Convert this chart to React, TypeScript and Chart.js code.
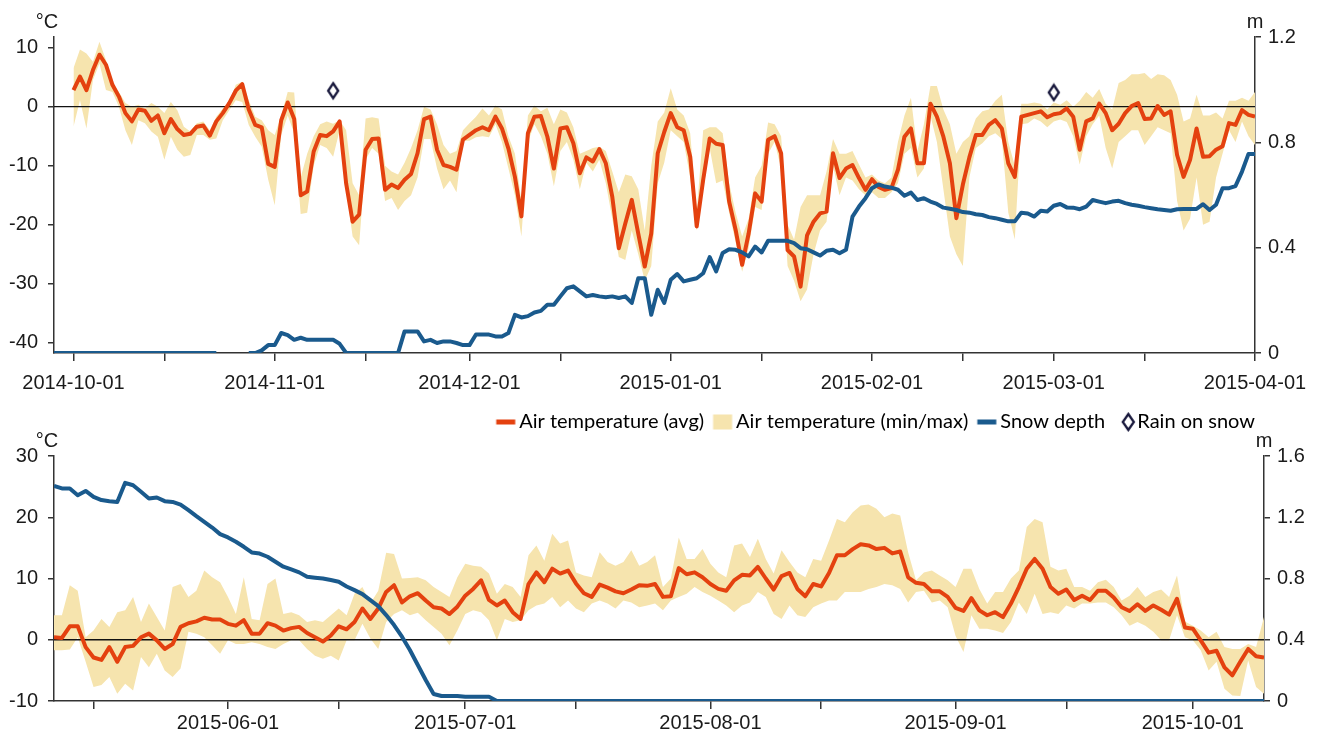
import React, { useEffect, useRef } from 'react';
import { Chart, registerables } from 'chart.js';

Chart.register(...registerables);

// ---------------- data ----------------
// Top panel: day 0 = 2014-10-01
const topRange = [-3, 182];
const topMonthDays = [0, 31, 61, 92, 123, 151, 182];
const topMonthLabels = ['2014-10-01', '2014-11-01', '2014-12-01', '2015-01-01', '2015-02-01', '2015-03-01', '2015-04-01'];
const topMidDays = [14, 45, 75, 106, 137, 165];
const topTempTicks = [-40, -30, -20, -10, 0, 10];
const topSnowTicks = [0, 0.4, 0.8, 1.2];
const topTempStart = 0;
const topSnowStart = -3;

const topAvg = [
  2.8, 5.1, 2.8, 6.2, 8.8, 7.1, 3.7, 1.7, -1.1, -2.5,
  -0.5, -0.7, -2.4, -1.5, -4.5, -2.1, -3.8, -4.8, -4.6, -3.4,
  -3.2, -4.9, -2.5, -1.1, 0.6, 2.7, 3.8, -0.5, -3.1, -3.5,
  -9.7, -10.2, -2.3, 0.7, -2.1, -15.0, -14.4, -7.6, -4.8, -5.0,
  -4.2, -2.5, -13, -19.5, -18.3, -7.3, -5.5, -5.4, -14.1, -13.2,
  -13.8, -12.4, -11.4, -7.9, -2.1, -1.7, -7.3, -9.9, -10.2, -10.7,
  -5.6, -4.8, -4.0, -3.5, -4.0, -1.7, -3.7, -7.1, -11.9, -18.6,
  -4.5, -1.7, -1.6, -5.1, -10.5, -3.7, -3.5, -6.2, -11.3, -8.6,
  -9.3, -7.2, -9.6, -15.3, -24.0, -19.8, -15.8, -21.5, -27.1, -21.5,
  -7.9, -4.3, -1.1, -3.5, -4.0, -8.5, -20.3, -12.4, -5.4, -6.3,
  -6.5, -16.1, -20.9, -26.8, -21.5, -14.7, -16.1, -5.6, -5.0, -7.9,
  -24.3, -25.4, -30.5, -21.8, -19.5, -18.1, -17.8, -7.9, -12.1, -10.5,
  -9.9, -12.1, -14.1, -12.3, -13.6, -14.1, -13.8, -10.7, -5.1, -3.7,
  -9.6, -9.6, 0.5, -1.7, -5.1, -9.6, -18.9, -13.2, -8.6, -4.8,
  -4.8, -3.1, -2.3, -3.7, -9.6, -11.9, -1.7, -1.4, -1.1, -0.8,
  -1.8, -1.3, -1.1, -0.3, -1.7, -7.3, -2.5, -2.0, 0.5, -1.1,
  -4.0, -2.9, -1.1, 0.1, 0.6, -2.1, -2.0, 0.1, -1.4, -0.8,
  -8.2, -11.9, -9.0, -3.7, -8.5, -8.4, -7.3, -6.7, -2.8, -3.1,
  -0.6, -1.4, -1.7,
];
const topMax = [
  6.5, 9.7, 9.0, 7.6, 11, 7.9, 4.0, 2.5, 0.6, 0,
  0.3, -0.3, 0.6, 0, -1.1, 0.8, -0.6, -3.4, -4.2, -2.8,
  -2.5, -4, -1.7, -0.3, 0.8, 3.7, 4.2, 1.1, -1.7, -2.3,
  -4, -4.8, -1.5, 2.5, 2.4, -12, -8, -5, -3, -2.5,
  -2.9, -2.3, -4, -13, -15, -2, -1.8, -2, -10, -11,
  -11.5, -9.5, -7, -4, 0, -0.5, -3, -6.5, -8, -7.5,
  -4, -2.8, -1.7, -0.3, -1.5, 0.2, -0.5, -5, -8, -16,
  -1.5, 0.2, -0.8, -0.2, -3, -0.5, -1, -3.5, -8, -7.5,
  -7, -6.8, -7.5, -11, -14.5, -11.5, -11.8, -14, -21, -10,
  -2.5, -1, 3.1, -0.5, -1.5, -4.5, -18, -4, -3.5, -3.5,
  -4.5, -13, -18, -22, -19, -12, -10, -2.7, -3, -5,
  -20, -22.5, -17, -15, -15, -15, -11, -5.5, -8, -8,
  -7.5, -9.8, -12, -11.5, -12.5, -13, -12, -6, -1.5, 1.5,
  -7.5, -3, 3.5, 3.5, -0.5, -3, -8, -6, -5, -2,
  -0.8, -0.5, 1, 2, -6, -10, 0.5, 0.5, 0.7, 0.5,
  -0.5, 0.7, 0.3, 1.1, 0, 1, 2.5, 1.5, 3, 0.5,
  -0.5, 4, 4.5, 5.5, 5.5, 5.7, 4.7, 5.5, 5.3, 4.5,
  2, -2.5, -2, 2, -1.5, -1.5, -1, -2, 1, 1,
  1.5, 1, 2.5,
];
const topMin = [
  -3.4, 1.1, -3.7, 4.5, 7.3, 2.8, 2.5, 0, -4, -6.5,
  -2.3, -2.8, -4.2, -5.1, -9, -5.1, -7.3, -8.5, -8.2, -4.8,
  -4.8, -5.6, -5.4, -2.3, -0.6, 1.1, 0.8, -3.1, -5.1, -6.8,
  -12.4, -16.7, -4.8, -1.5, -4.5, -18.2, -18, -10, -6.5, -7,
  -8.5, -4, -14, -22, -23.5, -9, -7, -8, -16, -15.5,
  -17.5, -16, -15, -12, -5.5, -5.5, -10.5, -14, -12.5, -14.5,
  -5.8, -5.8, -5.2, -5, -5.2, -3, -6, -10.5, -15, -22,
  -6, -3, -5, -8, -13.5, -7.5, -6, -9, -14, -9.5,
  -11, -9, -13, -19, -25.5, -26, -21, -25, -29.5, -27,
  -13, -9.5, -4, -5, -6, -12, -21, -14, -7, -13,
  -12.5, -18, -23, -28, -24, -17, -17.5, -8, -6, -10.5,
  -27, -29.5, -33, -31, -25, -21, -19.5, -10, -15, -12,
  -12.5, -14, -15, -14.5, -15.5, -15.5, -14.5, -13, -8, -7,
  -12, -10.5, -1.5, -6, -14, -22, -25, -27, -12, -7,
  -6.2, -5, -4.5, -5.5, -18, -22.5, -3, -2.8, -2, -2.5,
  -3.5, -2.5, -2.2, -2.6, -5, -9.8, -5, -3, -1.5, -7,
  -10.5, -6, -5, -4, -4, -6.5, -5, -3.5, -4, -4.5,
  -16, -21, -19, -12, -20, -19.5, -12, -8, -4, -6,
  -2.5, -5, -6.5,
];
// snow depth (m), day -3 .. 182, null = missing
const topSnow = [
  0, 0, 0, 0, 0, 0, 0, 0, 0, 0, 0, 0, 0, 0, 0, 0, 0, 0, 0, 0, 0, 0, 0, 0, 0, 0,
  null, null, null, null,
  0, 0, 0.01, 0.03, 0.03, 0.076, 0.068, 0.05, 0.058, 0.05, 0.05, 0.05, 0.05, 0.05, 0.035, 0,
  0, 0, 0, 0, 0, 0, 0, 0,
  0.082, 0.082, 0.082, 0.044, 0.05, 0.038, 0.044, 0.044, 0.038, 0.03,
  0.03, 0.07, 0.07, 0.07, 0.063, 0.063, 0.076, 0.145, 0.135, 0.14,
  0.154, 0.16, 0.183, 0.183, 0.215, 0.246, 0.253, 0.234, 0.215, 0.22,
  0.215, 0.212, 0.215, 0.209, 0.215, 0.19, 0.284, 0.284, 0.145, 0.24,
  0.19, 0.278, 0.30, 0.272, 0.278, 0.284, 0.303, 0.364, 0.31, 0.38,
  0.394, 0.392, 0.382, 0.367, 0.404, 0.382, 0.426, 0.426, 0.426, 0.426,
  0.417, 0.398, 0.394, 0.382, 0.37, 0.388, 0.392, 0.379, 0.392, 0.518,
  0.556, 0.588, 0.626, 0.64, 0.632, 0.628, 0.62, 0.597, 0.609, 0.581,
  0.588, 0.575, 0.566, 0.552, 0.548, 0.543, 0.535, 0.533, 0.527, 0.524,
  0.516, 0.512, 0.506, 0.5, 0.5, 0.533, 0.53, 0.518, 0.54, 0.537,
  0.559, 0.566, 0.553, 0.552, 0.546, 0.556, 0.581, 0.575, 0.569, 0.575,
  0.578, 0.569, 0.563, 0.559, 0.554, 0.55, 0.546, 0.543, 0.54, 0.546,
  0.547, 0.547, 0.547, 0.565, 0.543, 0.563, 0.626, 0.626, 0.634, 0.689,
  0.756, 0.756,
];
const rainDays = [40, 151];
const rainTemps = [2.7, 2.4];

// Bottom panel: day 0 = 2015-06-01
const bottomRange = [-22, 131];
const bottomMonthDays = [0, 30, 61, 92, 122];
const bottomMonthLabels = ['2015-06-01', '2015-07-01', '2015-08-01', '2015-09-01', '2015-10-01'];
const bottomMidDays = [-17, 14, 44, 75, 106];
const bottomTempTicks = [-10, 0, 10, 20, 30];
const bottomSnowTicks = [0, 0.4, 0.8, 1.2, 1.6];
const bottomStart = -22;

const bottomAvg = [
  0.4, 0.3, 2.2, 2.2, -1.2, -2.9, -3.3, -1.2, -3.6, -1.2,
  -1.0, 0.4, 1.0, -0.1, -1.5, -0.7, 2.1, 2.7, 3.0, 3.6,
  3.3, 3.3, 2.6, 2.3, 3.2, 1.0, 1.0, 2.7, 2.3, 1.5,
  1.9, 2.1, 1.1, 0.4, -0.3, 0.7, 2.2, 1.7, 2.9, 5.1,
  3.4, 5.1, 7.8, 8.9, 6.1, 7.1, 7.6, 6.4, 5.3, 5.1,
  4.2, 5.4, 7.2, 8.3, 9.7, 6.5, 5.6, 6.4, 4.5, 3.4,
  9.1, 11.0, 9.4, 11.6, 10.8, 11.3, 9.2, 7.6, 7.0, 9.0,
  8.5, 7.9, 7.6, 8.2, 8.9, 8.8, 9.1, 7.0, 7.1, 11.7,
  10.7, 11.0, 10.2, 9.1, 8.3, 8.0, 9.7, 10.6, 10.5, 11.9,
  10.0, 8.2, 10.4, 10.9, 8.3, 7.1, 9.1, 8.7, 10.9, 13.8,
  13.8, 14.8, 15.6, 15.4, 14.8, 15.0, 14.1, 14.4, 10.2, 9.3,
  9.1, 7.9, 7.9, 7.0, 5.2, 4.7, 6.8, 4.8, 4.0, 4.5,
  3.7, 5.9, 8.6, 11.6, 13.2, 11.6, 8.6, 7.5, 8.2, 6.5,
  7.2, 6.5, 8.0, 8.0, 6.9, 5.3, 4.7, 5.8, 4.7, 5.6,
  4.9, 4.1, 6.7, 2.0, 1.8, -0.1, -2.1, -1.8, -4.5, -5.8,
  -3.6, -1.5, -2.7, -2.9,
];
const bottomMax = [
  4, 4, 8.9, 8, 0.4, 1.5, 3.4, 2.1, 4.5, 4.8,
  7, 2.9, 5.9, 3.7, 1.5, 8.6, 9.1, 7, 8, 11.3,
  10.2, 9.4, 7, 4.2, 10.2, 3.4, 3.2, 9.1, 10, 4.2,
  4.5, 4, 2.9, 3.2, 2.9, 4, 5.1, 4, 7.5, 8.6,
  5.9, 8, 14.2, 14, 10, 10.1, 10.2, 9.7, 8.6, 7.8,
  7, 10.2, 12.4, 12.1, 11.9, 10.8, 7.5, 9.1, 8.6, 7,
  13.8, 15.4, 12.9, 17.3, 15.7, 16.2, 11, 10.5, 10.2, 14.3,
  12.7, 12.1, 12.7, 14.6, 12.1, 12.7, 13.8, 8.6, 10, 16.7,
  13.2, 13.2, 14.8, 12.4, 11, 10.2, 15.4, 15.7, 13.5, 16.5,
  13.2, 10.8, 14.6, 12.7, 11, 10.2, 13.2, 12.9, 16.2, 19.7,
  19.2, 20.8, 21.9, 22.1, 21.4, 20, 20.6, 20.3, 14.3, 9.7,
  11, 11.3, 10.5, 9.7, 8.6, 11.6, 11.6, 8.3, 5.9, 7.8,
  7.8, 10, 11.3, 18.4, 19.7, 19.2, 11.9, 11.3, 11.6, 8.6,
  8.6, 8, 9.4, 9.8, 8.6, 6.4, 7.2, 8.6, 7, 7.8,
  8.2, 7, 10.5, 3, 2.3, 1.5, 0.4, 1.3, -1.2, -1.5,
  -1.5, -0.7, -1.2, 3.7,
];
const bottomMin = [
  -1.7, -1.7, -1.6, 0.4, -3.6, -7.7, -7.4, -6.1, -8.8, -7.2,
  -8.3, -2.8, -4.5, -2.3, -5, -6.1, -4.7, 1.3, 1, 0.4,
  -0.9, -2.3, -0.1, -0.7, -0.7, -0.4, -0.7, -1.2, -1.5, -0.7,
  -0.1, -0.1, -1.5, -2.6, -3.1, -2.6, -3.4, -0.1, -0.1, 2.6,
  0.2, -1.5, 2.9, 4.2, 4.8, 4, 4.4, 3.2, 2.1, 1,
  -0.9, 1.5, 4.2, 4.8, 4.5, 3.2, -0.1, 3.4, 2.9, 3.2,
  4.8, 5.6, 5.9, 7, 5.3, 6.4, 5.1, 4.5, 5.9, 6.4,
  5.9, 5.1, 6.4, 6.1, 5.3, 5.6, 5.9, 4.8, 6.4, 7,
  7.5, 8.6, 7.8, 7.2, 6.4, 5.6, 4.5, 5.6, 6.1, 7.8,
  7, 4.2, 3.4, 5.6, 4, 3.7, 5.3, 5.9, 6.4, 6.4,
  7.8, 7.8, 7.8, 8.3, 8.6, 9.1, 8.9, 8.3, 6.1, 7.8,
  8, 6.1, 6.4, 5.3, 0.6, -2, 4, 1.8, 1.8, 1.5,
  1.1, 2.9, 6.1, 4.2, 7.5, 4.2, 4.5, 4.2, 5.6, 5.1,
  5.9, 5.9, 6.1, 6.1, 5.3, 4, 2.3, 2.9, 2.3, 1.3,
  -0.1, -0.1, 4, 0.4, -0.1, -1.7, -5, -3.6, -8, -9.1,
  -9.2, -3.4, -7.7, -8.8,
];
const bottomSnow = [
  1.405, 1.388, 1.388, 1.344, 1.372, 1.333, 1.312, 1.305, 1.300, 1.425,
  1.409, 1.366, 1.322, 1.329, 1.305, 1.300, 1.283, 1.246, 1.207, 1.170,
  1.133, 1.090, 1.068, 1.040, 1.007, 0.970, 0.963, 0.942, 0.909, 0.877,
  0.859, 0.840, 0.811, 0.805, 0.800, 0.790, 0.779, 0.748, 0.724, 0.698,
  0.659, 0.620, 0.561, 0.496, 0.420, 0.333, 0.235, 0.137, 0.046, 0.033,
  0.033, 0.033, 0.028, 0.028, 0.028, 0.028, 0, 0, 0, 0,
  0, 0, 0, 0, 0, 0, 0, 0, 0, 0,
  0, 0, 0, 0, 0, 0, 0, 0, 0, 0,
  0, 0, 0, 0, 0, 0, 0, 0, 0, 0,
  0, 0, 0, 0, 0, 0, 0, 0, 0, 0,
  0, 0, 0, 0, 0, 0, 0, 0, 0, 0,
  0, 0, 0, 0, 0, 0, 0, 0, 0, 0,
  0, 0, 0, 0, 0, 0, 0, 0, 0, 0,
  0, 0, 0, 0, 0, 0, 0, 0, 0, 0,
  0, 0, 0, 0, 0, 0, 0, 0, 0, 0,
  0, 0, 0, 0,
];

const legendTexts = ['Air temperature (avg)', 'Air temperature (min/max)', 'Snow depth', 'Rain on snow'];

// ---------------- style ----------------
const AXIS_FONT = { family: '"Liberation Sans", Arial, Helvetica, sans-serif', size: 20 };
const LEGEND_FONT = { family: 'Lato, "Noto Sans", sans-serif', size: 20 };
const RED = '#E4410F';
const BLUE = '#1A5A8D';
const BAND = '#F6E4AE';
const NAVY = '#17173B';
const AXIS = '#333333';
const TEXT = '#1A1A1A';
const NONE = 'rgba(0,0,0,0)';

function pts(values: (number | null)[], start: number) {
  return values.map((v, i) => ({ x: start + i, y: v }));
}

function makeDiamond(): HTMLCanvasElement {
  const c = document.createElement('canvas');
  c.width = 16; c.height = 20;
  const g = c.getContext('2d')!;
  g.beginPath();
  g.moveTo(8, 2.5); g.lineTo(13, 10); g.lineTo(8, 17.5); g.lineTo(3, 10); g.closePath();
  g.fillStyle = '#fff'; g.fill();
  g.lineWidth = 2.3; g.strokeStyle = NAVY; g.lineJoin = 'miter'; g.stroke();
  return c;
}

function makeIcon(kind: string): HTMLCanvasElement {
  const c = document.createElement('canvas');
  c.width = 40; c.height = 20;
  const g = c.getContext('2d')!;
  if (kind === 'avg') { g.fillStyle = RED; g.fillRect(13.5, 7.5, 19, 5); }
  if (kind === 'band') { g.fillStyle = BAND; g.fillRect(13.5, 2.5, 19, 15); }
  if (kind === 'snow') { g.fillStyle = BLUE; g.fillRect(13.5, 7.5, 19, 5); }
  if (kind === 'rain') {
    g.beginPath();
    g.moveTo(27.5, 2); g.lineTo(33, 10); g.lineTo(27.5, 18); g.lineTo(22, 10); g.closePath();
    g.fillStyle = '#fff'; g.fill();
    g.lineWidth = 2.3; g.strokeStyle = NAVY; g.stroke();
  }
  return c;
}

const unitPlugin = {
  id: 'unitLabels',
  afterDraw(chart: any) {
    const { ctx, chartArea } = chart;
    ctx.save();
    ctx.fillStyle = TEXT;
    ctx.font = '20px "Liberation Sans", Arial, sans-serif';
    ctx.textAlign = 'center';
    ctx.textBaseline = 'alphabetic';
    ctx.fillText('°C', chartArea.left - 7, chartArea.top - 9.5);
    ctx.fillText('m', chartArea.right, chartArea.top - 9.5);
    ctx.restore();
  },
};

function xScale(range: number[], majors: number[], labels: string[], mids: number[], height: number, pad: number) {
  const map = new Map(majors.map((d, i) => [d, labels[i]]));
  const all = [...majors, ...mids].sort((a, b) => a - b);
  return {
    type: 'linear',
    position: 'bottom',
    min: range[0],
    max: range[1],
    afterBuildTicks: (s: any) => { s.ticks = all.map((v) => ({ value: v })); },
    afterFit: (s: any) => { s.height = height; },
    ticks: {
      autoSkip: false, maxRotation: 0, minRotation: 0,
      font: AXIS_FONT, color: TEXT, padding: pad,
      callback: (v: number) => map.get(v) ?? '',
    },
    grid: { drawOnChartArea: false, drawTicks: true, tickLength: 8, color: AXIS, lineWidth: 1.5 },
    border: { display: true, color: AXIS, width: 1.5 },
  };
}

function yScale(position: string, min: number, max: number, ticks: number[], width: number, fmt: (v: number) => string, pad: number) {
  return {
    type: 'linear',
    position,
    min,
    max,
    afterBuildTicks: (s: any) => { s.ticks = ticks.map((v) => ({ value: v })); },
    afterFit: (s: any) => { s.width = width; },
    ticks: { font: AXIS_FONT, color: TEXT, padding: pad, callback: (v: number) => fmt(v) },
    grid: { drawOnChartArea: false, drawTicks: true, tickLength: 6, color: AXIS, lineWidth: 1.5 },
    border: { display: true, color: AXIS, width: 1.5 },
  };
}

const fmtTemp = (v: number) => String(v);
const fmtSnow = (v: number) => (v === 0 ? '0' : v.toFixed(1));

function tempDatasets(range: number[], max: number[], min: number[], avg: number[], start: number) {
  return [
    { label: 'zero', data: [{ x: range[0], y: 0 }, { x: range[1], y: 0 }], borderColor: '#111', borderWidth: 1.3, pointRadius: 0, order: 8, xAxisID: 'x', yAxisID: 'y', fill: false },
    { label: 'max', data: pts(max, start), borderColor: NONE, borderWidth: 0, pointRadius: 0, backgroundColor: BAND, fill: '+1', order: 10, xAxisID: 'x', yAxisID: 'y' },
    { label: 'min', data: pts(min, start), borderColor: NONE, borderWidth: 0, pointRadius: 0, fill: false, order: 9, xAxisID: 'x', yAxisID: 'y' },
    { label: 'avg', data: pts(avg, start), borderColor: RED, borderWidth: 4, pointRadius: 0, order: 2, xAxisID: 'x', yAxisID: 'y', fill: false, borderJoinStyle: 'round' },
  ];
}

export default function App() {
  const topRef = useRef<HTMLCanvasElement>(null);
  const botRef = useRef<HTMLCanvasElement>(null);

  useEffect(() => {
    const diamond = makeDiamond();
    const icons = ['avg', 'band', 'snow', 'rain'].map(makeIcon);

    const common = {
      responsive: false,
      animation: false,
      devicePixelRatio: 1,
      events: [],
      elements: { line: { tension: 0 } },
    };

    const top = new Chart(topRef.current!, {
      type: 'line',
      data: {
        datasets: [
          ...tempDatasets(topRange, topMax, topMin, topAvg, topTempStart),
          { label: 'snow', data: pts(topSnow, topSnowStart), borderColor: BLUE, borderWidth: 4, pointRadius: 0, order: 1, xAxisID: 'x', yAxisID: 'y1', spanGaps: false, fill: false, borderJoinStyle: 'round' },
          { label: 'rain', data: rainDays.map((d, i) => ({ x: d, y: rainTemps[i] })), showLine: false, pointStyle: diamond, pointRadius: 6, order: 0, xAxisID: 'x', yAxisID: 'y' },
        ],
      } as any,
      options: {
        ...common,
        layout: { padding: { top: 37, left: 0, right: 0, bottom: 0 } },
        plugins: { legend: { display: false }, tooltip: { enabled: false } },
        scales: {
          x: xScale(topRange, topMonthDays, topMonthLabels, topMidDays, 47, 10),
          y: yScale('left', -41.75, 11.8, topTempTicks, 54, fmtTemp, 10),
          y1: yScale('right', 0, 1.2, topSnowTicks, 65, fmtSnow, 7),
        },
      } as any,
      plugins: [unitPlugin],
    });

    const bot = new Chart(botRef.current!, {
      type: 'line',
      data: {
        datasets: [
          ...tempDatasets(bottomRange, bottomMax, bottomMin, bottomAvg, bottomStart),
          { label: 'snow', data: pts(bottomSnow, bottomStart), borderColor: BLUE, borderWidth: 4, pointRadius: 0, order: 1, xAxisID: 'x', yAxisID: 'y1', fill: false, borderJoinStyle: 'round' },
        ],
      } as any,
      options: {
        ...common,
        layout: { padding: { top: 3, left: 0, right: 0, bottom: 0 } },
        plugins: {
          tooltip: { enabled: false },
          legend: {
            display: true,
            position: 'top',
            align: 'end',
            fullSize: false,
            labels: {
              usePointStyle: true,
              pointStyleWidth: 13,
              padding: 9,
              font: LEGEND_FONT,
              color: TEXT,
              generateLabels: () => legendTexts.map((t, i) => ({
                text: t,
                pointStyle: icons[i],
                fillStyle: NONE,
                strokeStyle: NONE,
                lineWidth: 0,
                hidden: false,
                datasetIndex: i,
              })),
            },
          },
        },
        scales: {
          x: xScale(bottomRange, bottomMonthDays, bottomMonthLabels, bottomMidDays, 43, 2),
          y: yScale('left', -10, 30, bottomTempTicks, 54, fmtTemp, 10),
          y1: yScale('right', 0, 1.6, bottomSnowTicks, 56, fmtSnow, 7),
          xTop: {
            type: 'linear', position: 'top', display: true, min: 0, max: 1,
            ticks: { display: false }, grid: { display: false, drawTicks: false }, border: { display: false },
            afterFit: (s: any) => { s.height = 14; },
          },
        },
      } as any,
      plugins: [unitPlugin],
    });

    return () => { top.destroy(); bot.destroy(); };
  }, []);

  return (
    <div style={{ position: 'absolute', left: 0, top: 0, width: 1320, height: 744, background: '#fff', overflow: 'hidden' }}>
      <canvas ref={topRef} width={1320} height={400} style={{ position: 'absolute', left: 0, top: 0, display: 'block' }} />
      <canvas ref={botRef} width={1320} height={344} style={{ position: 'absolute', left: 0, top: 400, display: 'block' }} />
    </div>
  );
}
